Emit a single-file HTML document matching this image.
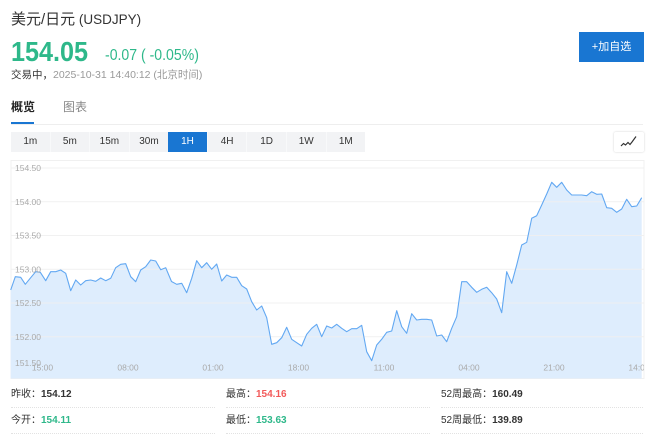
<!DOCTYPE html>
<html><head><meta charset="utf-8">
<style>
*{margin:0;padding:0;box-sizing:border-box}
html,body{width:660px;height:447px;overflow:hidden;background:#fff}
body{position:relative;font-family:"Liberation Sans","Noto Sans CJK SC",sans-serif;color:#333}
.a{position:absolute;white-space:nowrap}
.btns{position:absolute;left:11px;top:132px;width:354px;height:20px;background:#f2f3f5;display:flex}
.btns div{flex:1;text-align:center;font-size:10px;line-height:20px;color:#333;border-left:1px solid #f8f9fa}
.btns div:first-child{border-left:none}
.btns .on{background:#1976d2;color:#fff;border-left:none}
.row{position:absolute;font-size:10px;line-height:14px;color:#333}
.row b{font-weight:bold}
.sep{position:absolute;height:0;border-top:1px dotted #e2e2e2}
</style></head>
<body>
<div class="a" style="left:11px;top:10px;font-size:15px;line-height:20px;color:#333">美元/日元<span style="font-size:13.5px"> (USDJPY)</span></div>
<div class="a" style="left:11px;top:37.8px;font-size:28px;line-height:28px;font-weight:bold;color:#2eb88a;transform:scaleX(0.9);transform-origin:0 0">154.05</div>
<div class="a" style="left:105px;top:48px;font-size:16px;line-height:16px;color:#2eb88a;transform:scaleX(0.88);transform-origin:0 0">-0.07 ( -0.05%)</div>
<div class="a" style="left:11px;top:68px;font-size:10.5px;line-height:14px;color:#999"><span style="color:#333">交易中，</span>2025-10-31 14:40:12 (北京时间)</div>

<div class="a" style="left:11px;top:99px;font-size:12px;line-height:16px;font-weight:bold;color:#222">概览</div>
<div class="a" style="left:63px;top:99px;font-size:12px;line-height:16px;color:#888">图表</div>
<div class="a" style="left:11px;top:121.5px;width:23px;height:2px;background:#1976d2"></div>
<div class="a" style="left:11px;top:124px;width:632px;height:1px;background:#eeeeee"></div>

<div class="a" style="left:579px;top:32px;width:65px;height:30px;background:#1976d2;color:#fff;font-size:11px;line-height:30px;text-align:center">+加自选</div>

<div class="btns"><div>1m</div><div>5m</div><div>15m</div><div>30m</div><div class="on">1H</div><div>4H</div><div>1D</div><div>1W</div><div>1M</div></div>

<div class="a" style="left:614px;top:132px;width:30px;height:20px;background:#fff;box-shadow:0 0 2px rgba(0,0,0,0.18);border-radius:2px"></div>

<svg class="a" style="left:0;top:0" width="660" height="447" viewBox="0 0 660 447">
<defs><clipPath id="c"><rect x="11" y="160" width="633" height="220"/></clipPath></defs>
<polyline points="621,146 623.5,143.5 625.5,145 628,142.5 630,144.5 632,142 636,136.5" fill="none" stroke="#333" stroke-width="1.2"/>
<rect x="11" y="160.5" width="633" height="218" fill="none" stroke="#f0f0f0" stroke-width="1"/>
<polygon fill="#deedfd" points="10.7,290 15.3,276.7 20.7,277.3 25.3,284.3 30.7,277.7 35.7,271.7 40.3,272.3 45.7,280.7 50.7,271.7 55.7,271.7 60.7,270 65.7,273.3 70.7,290.7 75.7,280 80.7,285 85.7,280.7 90.7,280 95.7,281.3 100.7,278 105.7,280.7 110.7,278.3 115.7,267.7 120.7,264.3 125.7,263.7 130.7,276.7 135.7,281.7 140.7,270 145.7,266.7 150.7,260 155.7,261 160.7,269.7 165.7,267.7 171.5,281.5 176.7,284.3 181.7,283.3 186.7,292.7 191.7,278.3 196.7,260.7 201.7,267.7 206.7,262.7 211.7,269.3 216.7,264 221.7,281 226.7,275 231.7,277.3 236.7,277.3 241.7,285.7 246.7,289 251.7,301.7 256.7,310 261.7,306 266.7,317.7 271.7,344.3 276.7,342.7 281.7,337.7 286.7,327.3 291.7,339.3 296.7,342.7 301.7,346 306.7,334.3 311.7,328.3 316.7,324.3 321.7,336.7 326.7,326 331.7,328 336.7,324.3 341.7,328.3 346.7,331.7 351.7,328.7 356.7,328.7 361.7,325.3 366.7,351.7 371.7,360.7 376.7,345 381.7,339.3 386.7,332.3 391.7,331 396.7,310.7 401.7,326.7 406.7,333.3 411.7,313.7 416.7,320 421.7,319.3 426.7,319.3 431.7,320 436.7,336 441.7,335 446.7,341.7 451.7,328.3 456.7,316.7 461.7,281.7 466.7,281.7 471.7,287.3 476.7,292.3 481.7,289.3 486.7,287.3 491.7,292.7 496.7,299 501.7,312.7 506.7,271.7 511.7,283.3 516.7,265 521.7,245 526.7,242.3 531.7,218.3 536.7,215.7 541.7,205 546.7,194 551.7,182.3 556.7,187.3 561.7,182.3 566.7,190 571.7,195 576.7,195 581.7,195 586.7,195.7 591.7,191.7 596.7,194.3 601.7,194 606.7,207.7 611.7,208.3 616.7,212.3 621.7,209 626.7,199.3 631.7,206.7 636.7,206 641.7,197.7 641.7,378.5 10.7,378.5"/>
<g stroke="#f0f0f0" stroke-width="1" opacity="0.9">
<line x1="11" y1="168" x2="644" y2="168"/>
<line x1="11" y1="201.8" x2="644" y2="201.8"/>
<line x1="11" y1="235.5" x2="644" y2="235.5"/>
<line x1="11" y1="269.3" x2="644" y2="269.3"/>
<line x1="11" y1="303" x2="644" y2="303"/>
<line x1="11" y1="336.8" x2="644" y2="336.8"/>
</g>
<polyline fill="none" stroke="#62a8f2" stroke-width="1.1" stroke-linejoin="round" points="10.7,290 15.3,276.7 20.7,277.3 25.3,284.3 30.7,277.7 35.7,271.7 40.3,272.3 45.7,280.7 50.7,271.7 55.7,271.7 60.7,270 65.7,273.3 70.7,290.7 75.7,280 80.7,285 85.7,280.7 90.7,280 95.7,281.3 100.7,278 105.7,280.7 110.7,278.3 115.7,267.7 120.7,264.3 125.7,263.7 130.7,276.7 135.7,281.7 140.7,270 145.7,266.7 150.7,260 155.7,261 160.7,269.7 165.7,267.7 171.5,281.5 176.7,284.3 181.7,283.3 186.7,292.7 191.7,278.3 196.7,260.7 201.7,267.7 206.7,262.7 211.7,269.3 216.7,264 221.7,281 226.7,275 231.7,277.3 236.7,277.3 241.7,285.7 246.7,289 251.7,301.7 256.7,310 261.7,306 266.7,317.7 271.7,344.3 276.7,342.7 281.7,337.7 286.7,327.3 291.7,339.3 296.7,342.7 301.7,346 306.7,334.3 311.7,328.3 316.7,324.3 321.7,336.7 326.7,326 331.7,328 336.7,324.3 341.7,328.3 346.7,331.7 351.7,328.7 356.7,328.7 361.7,325.3 366.7,351.7 371.7,360.7 376.7,345 381.7,339.3 386.7,332.3 391.7,331 396.7,310.7 401.7,326.7 406.7,333.3 411.7,313.7 416.7,320 421.7,319.3 426.7,319.3 431.7,320 436.7,336 441.7,335 446.7,341.7 451.7,328.3 456.7,316.7 461.7,281.7 466.7,281.7 471.7,287.3 476.7,292.3 481.7,289.3 486.7,287.3 491.7,292.7 496.7,299 501.7,312.7 506.7,271.7 511.7,283.3 516.7,265 521.7,245 526.7,242.3 531.7,218.3 536.7,215.7 541.7,205 546.7,194 551.7,182.3 556.7,187.3 561.7,182.3 566.7,190 571.7,195 576.7,195 581.7,195 586.7,195.7 591.7,191.7 596.7,194.3 601.7,194 606.7,207.7 611.7,208.3 616.7,212.3 621.7,209 626.7,199.3 631.7,206.7 636.7,206 641.7,197.7"/>
<g font-family="Liberation Sans, sans-serif" font-size="8.5" fill="#aaaaaa">
<text x="15" y="171">154.50</text>
<text x="15" y="204.8">154.00</text>
<text x="15" y="238.5">153.50</text>
<text x="15" y="272.3">153.00</text>
<text x="15" y="306">152.50</text>
<text x="15" y="339.8">152.00</text>
<text x="15" y="366">151.50</text>
</g>
<g font-family="Liberation Sans, sans-serif" font-size="8.5" fill="#aaaaaa" text-anchor="middle" clip-path="url(#c)">
<text x="42.5" y="370.5">15:00</text>
<text x="128" y="370.5">08:00</text>
<text x="213" y="370.5">01:00</text>
<text x="298.5" y="370.5">18:00</text>
<text x="384" y="370.5">11:00</text>
<text x="469" y="370.5">04:00</text>
<text x="554" y="370.5">21:00</text>
<text x="639" y="370.5">14:00</text>
</g>
</svg>

<div class="row" style="left:11px;top:388px">昨收：<b>154.12</b></div>
<div class="row" style="left:226px;top:388px">最高：<b style="color:#f25a5a">154.16</b></div>
<div class="row" style="left:441px;top:388px">52周最高：<b>160.49</b></div>
<div class="row" style="left:11px;top:414px">今开：<b style="color:#2eb88a">154.11</b></div>
<div class="row" style="left:226px;top:414px">最低：<b style="color:#2eb88a">153.63</b></div>
<div class="row" style="left:441px;top:414px">52周最低：<b>139.89</b></div>
<div class="sep" style="left:11px;top:407px;width:204px"></div>
<div class="sep" style="left:226px;top:407px;width:204px"></div>
<div class="sep" style="left:441px;top:407px;width:202px"></div>
<div class="sep" style="left:11px;top:433px;width:204px"></div>
<div class="sep" style="left:226px;top:433px;width:204px"></div>
<div class="sep" style="left:441px;top:433px;width:202px"></div>
</body></html>
